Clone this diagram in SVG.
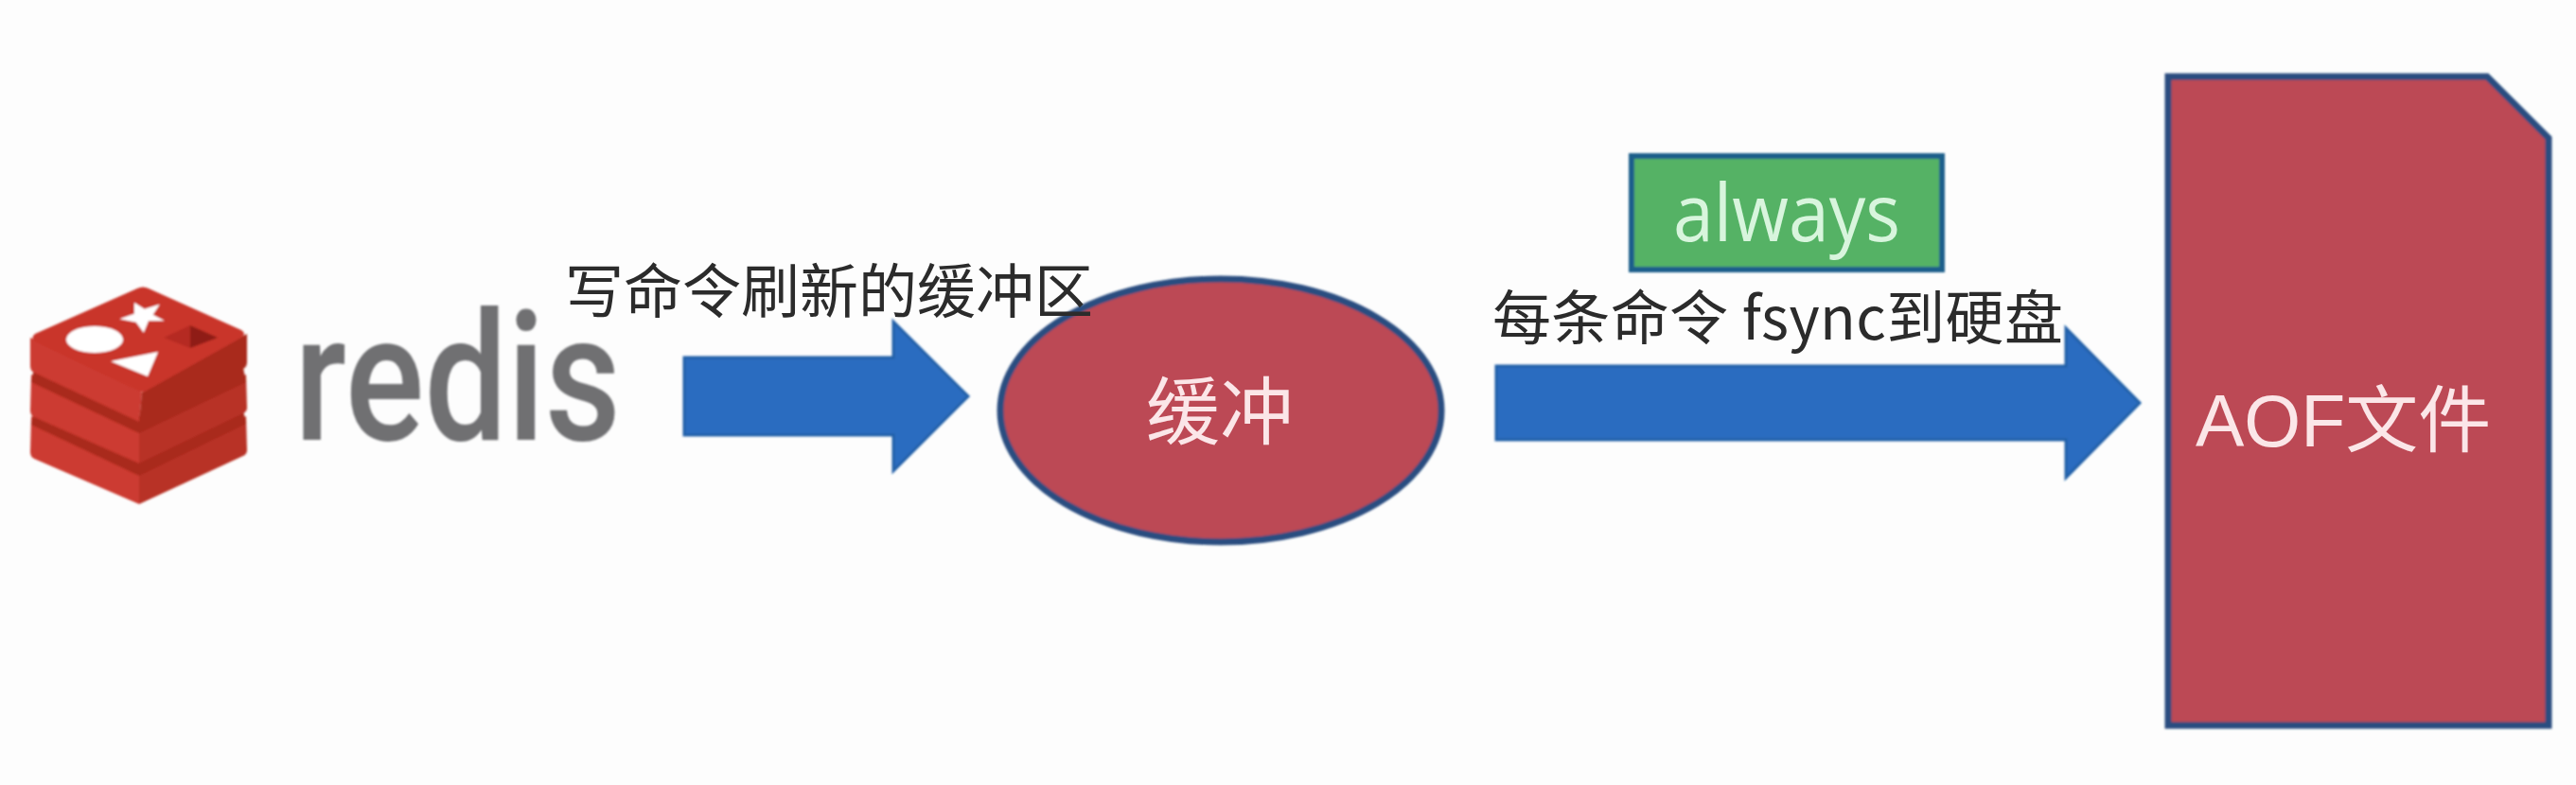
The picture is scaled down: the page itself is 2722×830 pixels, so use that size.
<svg xmlns="http://www.w3.org/2000/svg" width="2722" height="830" viewBox="0 0 2722 830">
  <style>
    .cjk { font-family: "Noto Sans CJK SC", "Noto Sans", sans-serif; }
    .dark { fill: #2b2b2b; }
    .light { fill: #fbe6e8; }
    .shape { fill: #bc4854; stroke: #2c4d80; stroke-width: 7; }
    .arrow { fill: #2b6cc0; stroke: #2160a8; stroke-width: 3; }
    .top { fill: #c9352c; }
    .front { fill: #cc3a30; }
    .side { fill: #b83025; }
    .groove { fill: #a92a1c; }
  </style>
  <defs>
    <filter id="soft" x="-5%" y="-5%" width="110%" height="110%"><feGaussianBlur stdDeviation="0.9"/></filter>
  </defs>
  <rect width="2722" height="830" fill="#fdfdfd"/>
  <g id="connectors" filter="url(#soft)">
    <polygon class="arrow" points="723,378 944,378 944,340 1023,419 944,498 944,460 723,460"/>
    <polygon class="arrow" points="1581,387 2183,387 2183,347 2261,426 2183,505 2183,465 1581,465"/>
  </g>
  <g id="node-redis" filter="url(#soft)">
    <g id="redis-logo">
      <path class="front" d="M33,440 L147,490 L147,533 L36,485 Q32,483 32,478 Z"/>
      <path class="side" d="M147,490 L260,440 L261,476 Q261,480 257,482 L147,533 Z"/>
      <polygon class="groove" points="36,434 147,484 257,434 260,448 147,503 33,449"/>
      <path class="front" d="M33,396 L147,445 L147,490 L36,441 Q32,439 32,434 Z"/>
      <path class="side" d="M147,445 L260,396 L261,431 Q261,435 257,437 L147,490 Z"/>
      <polygon class="groove" points="36,389 147,439 257,389 260,404 147,458 33,404"/>
      <path class="front" d="M32,357 L150,415 L147,446 L36,394 Q32,392 32,387 Z"/>
      <path class="groove" d="M150,415 L261,353 L261,383 Q261,388 257,390 L147,446 Z"/>
      <path class="top" d="M145,305 Q151,302 157,305 L255,349 Q261,353 255,357 L155,413 Q150,416 145,413 L37,361 Q32,357 37,353 Z"/>
      <ellipse cx="100" cy="359" rx="30" ry="14" fill="#fff"/>
      <polygon points="142,320 152.7,326.7 168.8,321.7 161.6,332.7 174,339.3 157,339.3 151.8,351.7 143.8,340.7 126.3,337.3 142,331.7" fill="#fff"/>
      <polygon points="117,382 167,372 156,398" fill="#fff"/>
      <polygon points="173,357 201,344 201,368" fill="#b52a20"/>
      <polygon points="201,344 230,357 201,368" fill="#8f1f14"/>
    </g>
    <text x="311" y="465" font-family="Roboto, sans-serif" font-weight="500" font-size="189" fill="#6f7072" textLength="345" lengthAdjust="spacingAndGlyphs">redis</text>
  </g>
  <g id="node-buffer">
    <ellipse class="shape" cx="1290" cy="434" rx="233" ry="139" filter="url(#soft)"/>
    <text class="cjk light" x="1289" y="464" font-size="78" text-anchor="middle">缓冲</text>
  </g>
  <g id="node-aof">
    <polygon class="shape" points="2291,81 2628,81 2693,146 2693,767 2291,767" filter="url(#soft)"/>
    <text class="light" x="2320" y="472" font-size="77" font-family="'Liberation Sans', 'Noto Sans CJK SC', sans-serif">AOF<tspan class="cjk">文件</tspan></text>
  </g>
  <g id="node-always">
    <rect x="1724" y="165" width="328" height="120" fill="#55b265" stroke="#1f5f8b" stroke-width="6" filter="url(#soft)"/>
    <text x="1768" y="255" font-family="'Open Sans', sans-serif" font-size="84" fill="#d8f5dd" textLength="240" lengthAdjust="spacingAndGlyphs">always</text>
  </g>
  <g id="labels">
    <text class="cjk dark" x="597" y="331" font-size="62">写命令刷新的缓冲区</text>
    <text class="cjk dark" x="1577" y="359" font-size="62" textLength="603">每条命令 fsync到硬盘</text>
  </g>
</svg>
